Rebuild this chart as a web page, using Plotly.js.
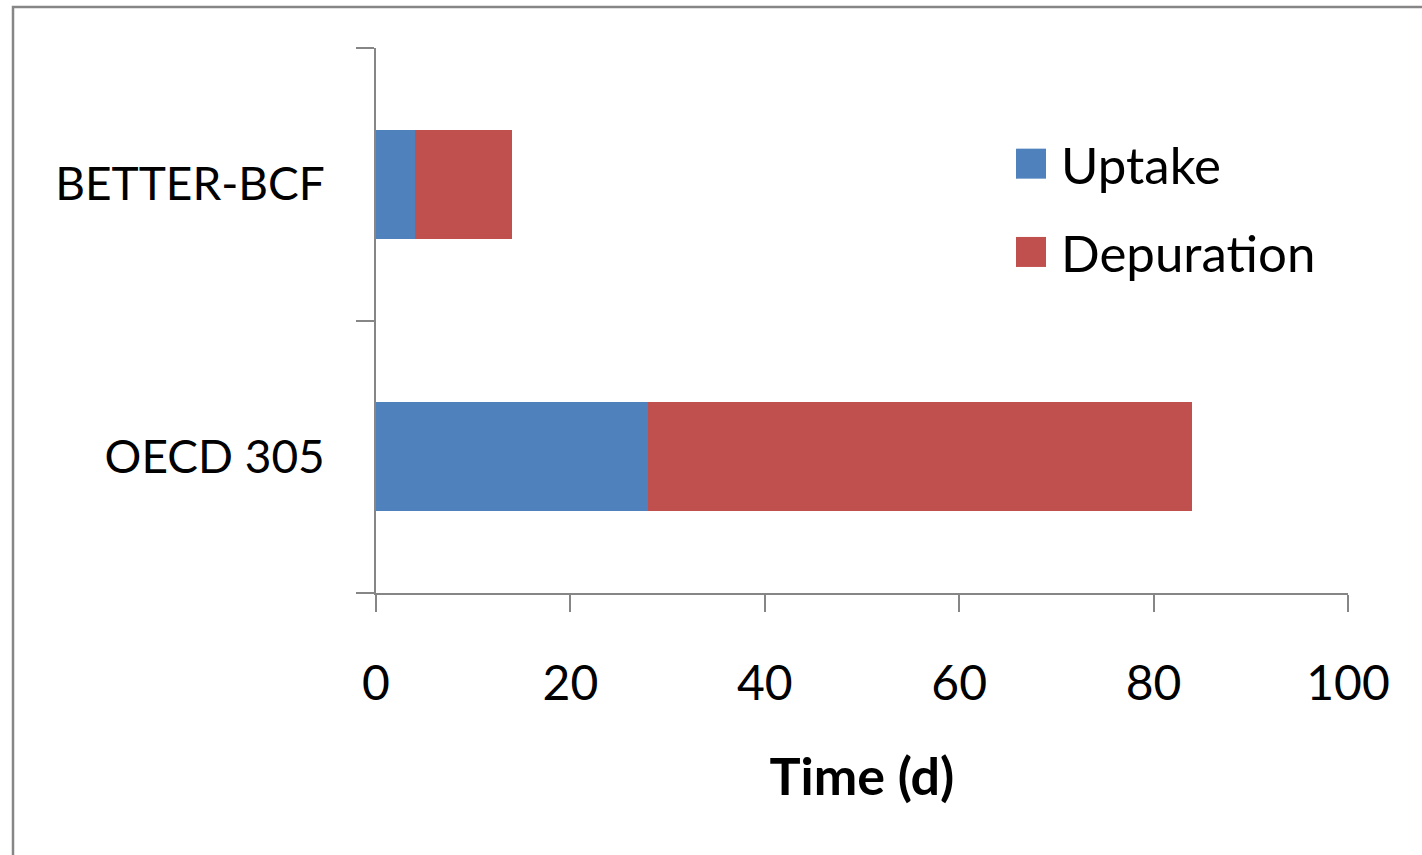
<!DOCTYPE html>
<html>
<head>
<meta charset="utf-8">
<script src="https://cdn.plot.ly/plotly-3.0.1.min.js"></script>
<style>
  html, body { margin: 0; padding: 0; background: #ffffff; }
  #chart { width: 1422px; height: 855px; }
</style>
</head>
<body>
<div id="chart"></div>
<script>
// Test designs (bottom to top) and their phase durations in days
const designs = ['OECD 305', 'BETTER-BCF'];
const uptakeDays = [28, 4];
const depurationDays = [56, 10];
const seriesNames = ['Uptake', 'Depuration'];
const xTickValues = [0, 20, 40, 60, 80, 100];
const axisTitle = 'Time (d)';

const BLUE = '#4F81BD';
const RED = '#C0504D';
const AXIS_GREY = '#868686';
const FONT = 'Lato, "Open Sans", sans-serif';

const W = 1422, H = 855;
const margin = { l: 376, r: 74, t: 48, b: 262, pad: 0 };
const plotW = W - margin.l - margin.r;
const plotH = H - margin.t - margin.b;
// convert pixel offsets to paper coordinates for the frame around the chart
const px = v => (v - margin.l) / plotW;
const py = v => (H - margin.b - v) / plotH;

const traces = [
  {
    type: 'bar', orientation: 'h', name: seriesNames[0],
    y: designs, x: uptakeDays,
    marker: { color: BLUE, line: { width: 0 } },
    legendgroup: 'a', hoverinfo: 'x+y+name'
  },
  {
    type: 'bar', orientation: 'h', name: seriesNames[1],
    y: designs, x: depurationDays,
    marker: { color: RED, line: { width: 0 } },
    legendgroup: 'b', hoverinfo: 'x+y+name'
  }
];

const layout = {
  width: W, height: H,
  margin: margin,
  paper_bgcolor: '#ffffff',
  plot_bgcolor: '#ffffff',
  font: { family: FONT, size: 48, color: '#000000' },
  barmode: 'stack',
  bargap: 0.6,
  showlegend: true,
  legend: {
    x: px(1001), xanchor: 'left',
    y: py(124), yanchor: 'top',
    traceorder: 'grouped',
    tracegroupgap: 19,
    bgcolor: 'rgba(0,0,0,0)',
    font: { family: FONT, size: 51, color: '#000000' },
    itemwidth: 50
  },
  xaxis: {
    range: [0, 100],
    tickvals: xTickValues,
    ticks: 'outside', ticklen: 17, tickwidth: 2, tickcolor: AXIS_GREY,
    showline: true, linecolor: AXIS_GREY, linewidth: 2,
    showgrid: false, zeroline: false,
    ticklabelstandoff: 30,
    tickfont: { family: FONT, size: 48, color: '#000000' },
    title: {
      text: '<b>' + axisTitle + '</b>',
      font: { family: FONT, size: 52, color: '#000000' },
      standoff: 50
    },
    fixedrange: true
  },
  yaxis: {
    type: 'category',
    categoryorder: 'array', categoryarray: designs,
    ticks: 'outside', ticklen: 18, tickwidth: 2, tickcolor: AXIS_GREY,
    tickson: 'boundaries',
    showline: true, linecolor: AXIS_GREY, linewidth: 2,
    showgrid: false, zeroline: false,
    ticklabelstandoff: 40,
    tickfont: { family: FONT, size: 46, color: '#000000' },
    fixedrange: true
  },
  shapes: [
    {
      type: 'rect', xref: 'paper', yref: 'paper',
      x0: px(13), x1: px(1500), y0: py(960), y1: py(7),
      line: { color: AXIS_GREY, width: 2.5 },
      fillcolor: 'rgba(0,0,0,0)', layer: 'below'
    }
  ]
};

// Enlarge the legend swatches to match the label size
function enlargeSwatches(gd) {
  gd.querySelectorAll('.legend .legendpoints path').forEach(p => {
    p.setAttribute('d', 'M15,15H-15V-15H15Z');
  });
}

const gd = document.getElementById('chart');
Plotly.newPlot(gd, traces, layout, { displayModeBar: false }).then(() => {
  enlargeSwatches(gd);
  gd.on('plotly_afterplot', () => enlargeSwatches(gd));
});
</script>
</body>
</html>
